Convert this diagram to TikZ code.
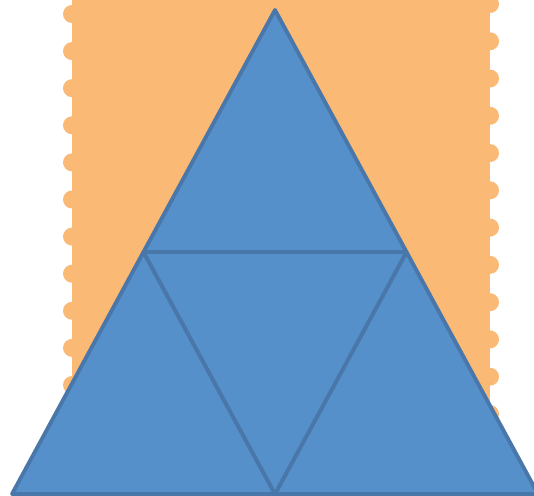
\documentclass[tikz,border=0pt]{standalone}
\usetikzlibrary{calc}
\definecolor{tapeorange}{HTML}{FAB974}
\definecolor{trifill}{HTML}{5690CB}
\definecolor{triline}{HTML}{4A77A9}
\begin{document}
\begin{tikzpicture}[x=0.02cm,y=-0.02cm,
  part/.style={fill=trifill,draw=triline,line width=2.2pt,line join=round}]
  \useasboundingbox (0,0) rectangle (534,496);
  \clip (0,0) rectangle (534,496);
  \fill[tapeorange] (72,-20) rectangle (490,500);
  \foreach \k in {0,...,10}
    \fill[tapeorange] (72,14+37.1*\k) circle[radius=9];
  \foreach \k in {0,...,11}
    \fill[tapeorange] (490,4+37.27*\k) circle[radius=9];
  \coordinate (top) at (275,10);
  \coordinate (bl) at (12,494);
  \coordinate (br) at (538,494);
  \coordinate (ml) at ($(top)!0.5!(bl)$);
  \coordinate (mr) at ($(top)!0.5!(br)$);
  \coordinate (mb) at ($(bl)!0.5!(br)$);
  \draw[part] (top) -- (ml) -- (mr) -- cycle;
  \draw[part] (ml) -- (bl) -- (mb) -- cycle;
  \draw[part] (mr) -- (mb) -- (br) -- cycle;
  \draw[part] (ml) -- (mr) -- (mb) -- cycle;
\end{tikzpicture}
\end{document}
